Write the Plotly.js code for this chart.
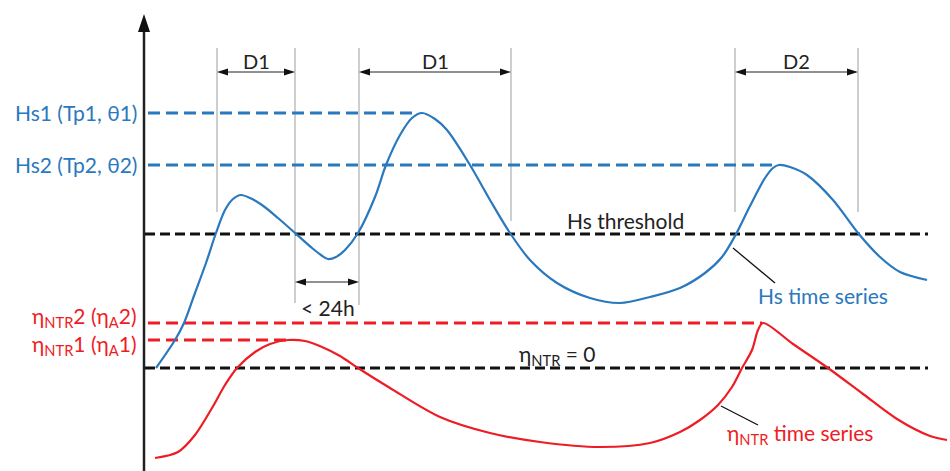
<!DOCTYPE html>
<html><head><meta charset="utf-8">
<script src="https://cdn.plot.ly/plotly-3.0.1.min.js"></script>
<style>html,body{margin:0;padding:0;background:#fff}#chart{width:950px;height:471px}</style>
</head><body><div id="chart"></div>
<script>
// Hs time series (schematic, pixel-based units: x = time, y = level, y grows downward)
const hsX = [156,175,184,195,206,216,225,233,241,250,262,278,295,312,321,328,336,345,358,375,386,400,412,422,435,447,470,490,510,530,557,590,620,650,680,705,722,735,750,765,773,779,790,807,833,858,880,900,927];
const hsY = [368,340,323,293,263,233,210,199,195,198,205,218,233,248,255,259,257,250,233,197,165,135,118,113,119,130,165,200,233,260,283,298,303,297,288,273,257,236,206,178,168,165,167,175,200,233,257,272,280];
// Non-tidal residual time series
const ntrX = [155,178,195,212,225,237,255,270,288,305,322,340,358,390,440,490,540,600,650,680,700,718,732,742,752,758,763,793,828,863,897,930,947];
const ntrY = [458,452,435,408,385,368,352,344,340,341,347,356,368,388,417,433,442,447,443,432,420,405,387,368,350,330,323,344,368,394,419,436,440];

// Horizontal reference levels
const levelNames = ['Hs1','Hs2','Hs threshold','ηNTR2','ηNTR1','ηNTR = 0'];
const levelY  = [113,165,234,323,340,368];
const levelX0 = [148,148,145,148,148,145];
const levelX1 = [418,778,928,762,288,928];
const levelKind = ['hs','hs','zero','ntr','ntr','zero'];

// Storm duration markers
const edgeX = [217,295,359,511,735,858];
const edgeBottom = [212,303,305,221,212,212];
const edgeTop = 48;
const periodStart = [217,359,735];
const periodEnd   = [295,511,858];
const periodLabels = ['D1','D1','D2'];
const periodArrowY = 72;
const gapStart = 295, gapEnd = 359, gapArrowY = 282, gapLabel = '< 24h';

// Level labels
const levelLabels = ['Hs1 (Tp1, θ1)','Hs2 (Tp2, θ2)','η<sub>NTR</sub>2 (η<sub>A</sub>2)','η<sub>NTR</sub>1 (η<sub>A</sub>1)'];
const levelLabelY = [112,164,317,345];

// Axis
const axisX = 144, axisTop = 14, axisBottom = 471;

const BLUE = '#2a78bd', RED = '#ee1c24', BLACK = '#111111', GRAY = '#b4b4b4';
const FONT = 'Lato, "Open Sans", sans-serif';

const traces = [];
levelY.forEach((y,i)=>{
  const c = levelKind[i]==='hs'?BLUE:(levelKind[i]==='ntr'?RED:BLACK);
  traces.push({x:[levelX0[i],levelX1[i]], y:[y,y], mode:'lines', name:levelNames[i],
    line:{color:c, width:3, dash: levelKind[i]==='zero'?'10px,5px':'12px,6px'}, hoverinfo:'skip'});
});
traces.push({x:hsX, y:hsY, mode:'lines', name:'Hs time series', line:{color:BLUE, width:2.2, shape:'spline', smoothing:0.9}});
traces.push({x:ntrX, y:ntrY, mode:'lines', name:'ηNTR time series', line:{color:RED, width:2.2, shape:'spline', smoothing:0.9}});

const shapes = [];
// vertical axis with arrowhead
shapes.push({type:'line', xref:'x', yref:'y', x0:axisX, x1:axisX, y0:axisTop+16, y1:axisBottom, line:{color:'#222', width:2.5}});
shapes.push({type:'path', xref:'x', yref:'y', path:`M${axisX-6},${axisTop+18} L${axisX},${axisTop} L${axisX+6},${axisTop+18} Z`, fillcolor:'#111', line:{width:0}});
edgeX.forEach((x,i)=>shapes.push({type:'line', xref:'x', yref:'y', x0:x, x1:x, y0:edgeTop, y1:edgeBottom[i], line:{color:GRAY, width:1.3}, layer:'below'}));
function dblArrow(a,b,y){
  shapes.push({type:'line', xref:'x', yref:'y', x0:a+8, x1:b-8, y0:y, y1:y, line:{color:'#222', width:1}});
  shapes.push({type:'path', xref:'x', yref:'y', path:`M${a},${y} L${a+11},${y-3.5} L${a+11},${y+3.5} Z`, fillcolor:'#111', line:{width:0}});
  shapes.push({type:'path', xref:'x', yref:'y', path:`M${b},${y} L${b-11},${y-3.5} L${b-11},${y+3.5} Z`, fillcolor:'#111', line:{width:0}});
}
periodStart.forEach((a,i)=>dblArrow(a,periodEnd[i],periodArrowY));
dblArrow(gapStart,gapEnd,gapArrowY);
// leader lines
shapes.push({type:'line', xref:'x', yref:'y', x0:733, y0:248, x1:775, y1:283, line:{color:'#111', width:1.3}});
shapes.push({type:'line', xref:'x', yref:'y', x0:721, y0:406, x1:758, y1:425, line:{color:'#111', width:1.3}});

const annotations = [];
const txt = (text,x,y,color,xanchor,size)=>annotations.push({text, x, y, xref:'x', yref:'y', showarrow:false,
  xanchor:xanchor||'center', yanchor:'middle', font:{family:FONT, size:size||21, color}});
levelLabels.forEach((t,i)=>txt(t,139,levelLabelY[i], i<2?BLUE:RED,'right',21));
periodLabels.forEach((t,i)=>txt(t,(periodStart[i]+periodEnd[i])/2,61,'#222','center',20));
txt(gapLabel,(gapStart+gapEnd)/2+1,307,'#222','center',21);
txt('Hs threshold',625,220,'#222','center',21);
txt('η<sub>NTR</sub> = 0',557,355,'#222','center',21);
txt('Hs time series',823,295,BLUE,'center',21);
txt('η<sub>NTR</sub> time series',800,434,RED,'center',21);

const layout = {
  width:950, height:471, margin:{l:0,r:0,t:0,b:0}, showlegend:false,
  paper_bgcolor:'#fff', plot_bgcolor:'#fff',
  xaxis:{range:[0,950], visible:false, fixedrange:true},
  yaxis:{range:[471,0], visible:false, fixedrange:true},
  shapes, annotations
};
Plotly.newPlot('chart', traces, layout, {displayModeBar:false, staticPlot:true});
</script></body></html>
